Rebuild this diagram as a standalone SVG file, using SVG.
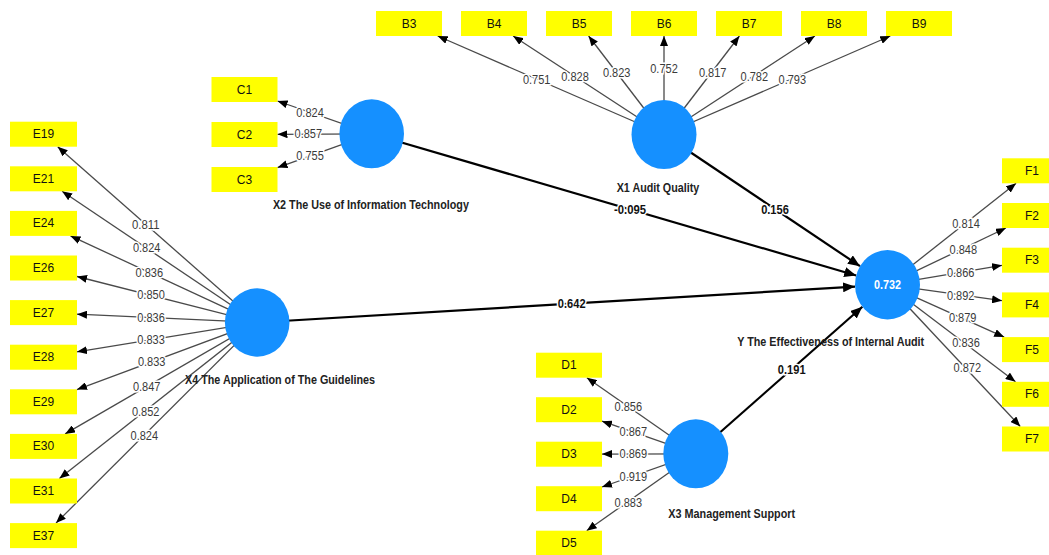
<svg xmlns="http://www.w3.org/2000/svg" width="1049" height="555" viewBox="0 0 1049 555">
<style>
.bg{fill:#fff}
.ind rect{fill:#ffff00}
.ind text{font-family:"Liberation Sans",Arial,sans-serif;font-size:12px;fill:#111;text-anchor:middle;dominant-baseline:central}
.lv ellipse{fill:#1590ff}
.lv text.nm{font-family:"Liberation Sans",Arial,sans-serif;font-size:12.5px;font-weight:bold;fill:#222;text-anchor:middle;dominant-baseline:central}
.lv text.r2{font-family:"Liberation Sans",Arial,sans-serif;font-size:12px;font-weight:bold;fill:#fff;text-anchor:middle;dominant-baseline:central}
.ld{stroke:#4a4a4a;stroke-width:1.3;fill:none;marker-end:url(#ah)}
.pc{stroke:#000;stroke-width:2.2;fill:none;marker-end:url(#ahp)}
.ll{font-family:"Liberation Sans",Arial,sans-serif;font-size:12px;fill:#3a3a3a;text-anchor:middle;dominant-baseline:central;stroke:#fff;stroke-width:3;paint-order:stroke}
.pl{font-family:"Liberation Sans",Arial,sans-serif;font-size:12px;font-weight:bold;fill:#111;text-anchor:middle;dominant-baseline:central;stroke:#fff;stroke-width:3;paint-order:stroke}
</style>
<defs>
<marker id="ah" viewBox="0 0 10 8" refX="10" refY="4" markerWidth="10" markerHeight="8" orient="auto" markerUnits="userSpaceOnUse"><path d="M0,0L10,4L0,8z" fill="#000"/></marker>
<marker id="ahp" viewBox="0 0 12 10" refX="12" refY="5" markerWidth="12" markerHeight="10" orient="auto" markerUnits="userSpaceOnUse"><path d="M0,0L12,5L0,10z" fill="#000"/></marker>
</defs>
<rect class="bg" x="0" y="0" width="1049" height="555"/>

<g id="connectors">
  <!-- X1 loadings -->
  <line class="ld" x1="664" y1="134.5" x2="437.7" y2="36"/>
  <line class="ld" x1="664" y1="134.5" x2="513.1" y2="36"/>
  <line class="ld" x1="664" y1="134.5" x2="588.6" y2="36"/>
  <line class="ld" x1="664" y1="134.5" x2="664" y2="36"/>
  <line class="ld" x1="664" y1="134.5" x2="739.4" y2="36"/>
  <line class="ld" x1="664" y1="134.5" x2="814.9" y2="36"/>
  <line class="ld" x1="664" y1="134.5" x2="890.3" y2="36"/>
  <!-- X2 loadings -->
  <line class="ld" x1="371.7" y1="133.8" x2="277.5" y2="101"/>
  <line class="ld" x1="371.7" y1="133.8" x2="277.5" y2="134.3"/>
  <line class="ld" x1="371.7" y1="133.8" x2="277.5" y2="167.6"/>
  <!-- X4 loadings -->
  <line class="ld" x1="257.2" y1="322.5" x2="57.7" y2="146.7"/>
  <line class="ld" x1="257.2" y1="322.5" x2="62.1" y2="191.3"/>
  <line class="ld" x1="257.2" y1="322.5" x2="70.5" y2="235.9"/>
  <line class="ld" x1="257.2" y1="322.5" x2="77" y2="276.5"/>
  <line class="ld" x1="257.2" y1="322.5" x2="77" y2="314.2"/>
  <line class="ld" x1="257.2" y1="322.5" x2="77" y2="351.8"/>
  <line class="ld" x1="257.2" y1="322.5" x2="77" y2="389.6"/>
  <line class="ld" x1="257.2" y1="322.5" x2="65.1" y2="433.9"/>
  <line class="ld" x1="257.2" y1="322.5" x2="59.4" y2="478.5"/>
  <line class="ld" x1="257.2" y1="322.5" x2="56" y2="523.1"/>
  <!-- X3 loadings -->
  <line class="ld" x1="695.8" y1="453.8" x2="586.9" y2="377.7"/>
  <line class="ld" x1="695.8" y1="453.8" x2="602" y2="421.2"/>
  <line class="ld" x1="695.8" y1="453.8" x2="602" y2="454.1"/>
  <line class="ld" x1="695.8" y1="453.8" x2="602" y2="487"/>
  <line class="ld" x1="695.8" y1="453.8" x2="586.7" y2="530.7"/>
  <!-- Y loadings -->
  <line class="ld" x1="887.5" y1="284.7" x2="1016.1" y2="183.3"/>
  <line class="ld" x1="887.5" y1="284.7" x2="1005.9" y2="228"/>
  <line class="ld" x1="887.5" y1="284.7" x2="1002" y2="265.3"/>
  <line class="ld" x1="887.5" y1="284.7" x2="1002" y2="300.7"/>
  <line class="ld" x1="887.5" y1="284.7" x2="1004.2" y2="337.1"/>
  <line class="ld" x1="887.5" y1="284.7" x2="1015.5" y2="381.8"/>
  <line class="ld" x1="887.5" y1="284.7" x2="1020.3" y2="426.5"/>
  <!-- structural paths -->
  <line class="pc" x1="664" y1="134.5" x2="860" y2="266.2"/>
  <line class="pc" x1="371.7" y1="133.8" x2="856.2" y2="275.5"/>
  <line class="pc" x1="257.2" y1="322.5" x2="855" y2="286.6"/>
  <line class="pc" x1="695.8" y1="453.8" x2="862.4" y2="306.8"/>

  <!-- loading labels -->
  <text class="ll" x="536.7" y="79.5" textLength="27.5" lengthAdjust="spacingAndGlyphs">0.751</text>
  <text class="ll" x="575" y="76.5" textLength="27.5" lengthAdjust="spacingAndGlyphs">0.828</text>
  <text class="ll" x="616.7" y="72.5" textLength="27.5" lengthAdjust="spacingAndGlyphs">0.823</text>
  <text class="ll" x="664" y="69.3" textLength="27.5" lengthAdjust="spacingAndGlyphs">0.752</text>
  <text class="ll" x="712.7" y="72.5" textLength="27.5" lengthAdjust="spacingAndGlyphs">0.817</text>
  <text class="ll" x="754.3" y="76.5" textLength="27.5" lengthAdjust="spacingAndGlyphs">0.782</text>
  <text class="ll" x="792.3" y="79.5" textLength="27.5" lengthAdjust="spacingAndGlyphs">0.793</text>

  <text class="ll" x="310" y="112.5" textLength="27.5" lengthAdjust="spacingAndGlyphs">0.824</text>
  <text class="ll" x="308.3" y="134.2" textLength="27.5" lengthAdjust="spacingAndGlyphs">0.857</text>
  <text class="ll" x="310" y="156" textLength="27.5" lengthAdjust="spacingAndGlyphs">0.755</text>

  <text class="ll" x="145.7" y="225" textLength="27.5" lengthAdjust="spacingAndGlyphs">0.811</text>
  <text class="ll" x="146.7" y="247.7" textLength="27.5" lengthAdjust="spacingAndGlyphs">0.824</text>
  <text class="ll" x="149.3" y="272.5" textLength="27.5" lengthAdjust="spacingAndGlyphs">0.836</text>
  <text class="ll" x="151" y="295.3" textLength="27.5" lengthAdjust="spacingAndGlyphs">0.850</text>
  <text class="ll" x="151" y="318.3" textLength="27.5" lengthAdjust="spacingAndGlyphs">0.836</text>
  <text class="ll" x="151" y="340" textLength="27.5" lengthAdjust="spacingAndGlyphs">0.833</text>
  <text class="ll" x="151.7" y="362.3" textLength="27.5" lengthAdjust="spacingAndGlyphs">0.833</text>
  <text class="ll" x="146.7" y="387.3" textLength="27.5" lengthAdjust="spacingAndGlyphs">0.847</text>
  <text class="ll" x="145.7" y="412.3" textLength="27.5" lengthAdjust="spacingAndGlyphs">0.852</text>
  <text class="ll" x="144.3" y="436" textLength="27.5" lengthAdjust="spacingAndGlyphs">0.824</text>

  <text class="ll" x="628.3" y="406.7" textLength="27.5" lengthAdjust="spacingAndGlyphs">0.856</text>
  <text class="ll" x="633.3" y="432.3" textLength="27.5" lengthAdjust="spacingAndGlyphs">0.867</text>
  <text class="ll" x="633.3" y="454.3" textLength="27.5" lengthAdjust="spacingAndGlyphs">0.869</text>
  <text class="ll" x="633.3" y="476.7" textLength="27.5" lengthAdjust="spacingAndGlyphs">0.919</text>
  <text class="ll" x="628.3" y="503.3" textLength="27.5" lengthAdjust="spacingAndGlyphs">0.883</text>

  <text class="ll" x="966" y="224" textLength="27.5" lengthAdjust="spacingAndGlyphs">0.814</text>
  <text class="ll" x="963.3" y="250" textLength="27.5" lengthAdjust="spacingAndGlyphs">0.848</text>
  <text class="ll" x="960.7" y="272.7" textLength="27.5" lengthAdjust="spacingAndGlyphs">0.866</text>
  <text class="ll" x="960.7" y="295.7" textLength="27.5" lengthAdjust="spacingAndGlyphs">0.892</text>
  <text class="ll" x="962.7" y="318.3" textLength="27.5" lengthAdjust="spacingAndGlyphs">0.879</text>
  <text class="ll" x="966" y="343.3" textLength="27.5" lengthAdjust="spacingAndGlyphs">0.836</text>
  <text class="ll" x="967.3" y="368.3" textLength="27.5" lengthAdjust="spacingAndGlyphs">0.872</text>

  <!-- path coefficients -->
  <text class="pl" x="775" y="210" textLength="27.7" lengthAdjust="spacingAndGlyphs">0.156</text>
  <text class="pl" x="630" y="210" textLength="32" lengthAdjust="spacingAndGlyphs">-0.095</text>
  <text class="pl" x="571.7" y="304" textLength="27.7" lengthAdjust="spacingAndGlyphs">0.642</text>
  <text class="pl" x="791.7" y="369.5" textLength="27.7" lengthAdjust="spacingAndGlyphs">0.191</text>
</g>

<g id="X1" class="lv">
  <ellipse cx="664" cy="134.5" rx="32.5" ry="34.6"/>
  <text class="nm" x="658" y="188.3" textLength="82.6" lengthAdjust="spacingAndGlyphs">X1 Audit Quality</text>
</g>
<g id="X2" class="lv">
  <ellipse cx="371.7" cy="133.8" rx="32.3" ry="34.5"/>
  <text class="nm" x="370.9" y="205" textLength="196" lengthAdjust="spacingAndGlyphs">X2 The Use of Information Technology</text>
</g>
<g id="X3" class="lv">
  <ellipse cx="695.8" cy="453.8" rx="32.5" ry="34.5"/>
  <text class="nm" x="731.7" y="514" textLength="126.7" lengthAdjust="spacingAndGlyphs">X3 Management Support</text>
</g>
<g id="X4" class="lv">
  <ellipse cx="257.2" cy="322.5" rx="32.3" ry="34.2"/>
  <text class="nm" x="280" y="380" textLength="190" lengthAdjust="spacingAndGlyphs">X4 The Application of The Guidelines</text>
</g>
<g id="Y" class="lv">
  <ellipse cx="887.5" cy="284.7" rx="32.5" ry="34.7"/>
  <text class="r2" x="887.5" y="284.7" textLength="27" lengthAdjust="spacingAndGlyphs">0.732</text>
  <text class="nm" x="830.7" y="341.5" textLength="187" lengthAdjust="spacingAndGlyphs">Y The Effectiveness of Internal Audit</text>
</g>

<g id="B3" class="ind"><rect x="376" y="11" width="66" height="25"/><text x="409" y="23.5">B3</text></g>
<g id="B4" class="ind"><rect x="461" y="11" width="66" height="25"/><text x="494" y="23.5">B4</text></g>
<g id="B5" class="ind"><rect x="546" y="11" width="66" height="25"/><text x="579" y="23.5">B5</text></g>
<g id="B6" class="ind"><rect x="631" y="11" width="66" height="25"/><text x="664" y="23.5">B6</text></g>
<g id="B7" class="ind"><rect x="716" y="11" width="66" height="25"/><text x="749" y="23.5">B7</text></g>
<g id="B8" class="ind"><rect x="801" y="11" width="66" height="25"/><text x="834" y="23.5">B8</text></g>
<g id="B9" class="ind"><rect x="886" y="11" width="66" height="25"/><text x="919" y="23.5">B9</text></g>

<g id="C1" class="ind"><rect x="211.5" y="77" width="66" height="25"/><text x="244.5" y="89.5">C1</text></g>
<g id="C2" class="ind"><rect x="211.5" y="122" width="66" height="25"/><text x="244.5" y="134.5">C2</text></g>
<g id="C3" class="ind"><rect x="211.5" y="167" width="66" height="25"/><text x="244.5" y="179.5">C3</text></g>

<g id="E19" class="ind"><rect x="10" y="121.7" width="67" height="25"/><text x="43.5" y="134.2">E19</text></g>
<g id="E21" class="ind"><rect x="10" y="166.3" width="67" height="25"/><text x="43.5" y="178.8">E21</text></g>
<g id="E24" class="ind"><rect x="10" y="210.9" width="67" height="25"/><text x="43.5" y="223.4">E24</text></g>
<g id="E26" class="ind"><rect x="10" y="255.5" width="67" height="25"/><text x="43.5" y="268">E26</text></g>
<g id="E27" class="ind"><rect x="10" y="300.1" width="67" height="25"/><text x="43.5" y="312.6">E27</text></g>
<g id="E28" class="ind"><rect x="10" y="344.7" width="67" height="25"/><text x="43.5" y="357.2">E28</text></g>
<g id="E29" class="ind"><rect x="10" y="389.3" width="67" height="25"/><text x="43.5" y="401.8">E29</text></g>
<g id="E30" class="ind"><rect x="10" y="433.9" width="67" height="25"/><text x="43.5" y="446.4">E30</text></g>
<g id="E31" class="ind"><rect x="10" y="478.5" width="67" height="25"/><text x="43.5" y="491">E31</text></g>
<g id="E37" class="ind"><rect x="10" y="523.1" width="67" height="25"/><text x="43.5" y="535.6">E37</text></g>

<g id="D1" class="ind"><rect x="536" y="352.7" width="66" height="25"/><text x="569" y="365.2">D1</text></g>
<g id="D2" class="ind"><rect x="536" y="397.2" width="66" height="25"/><text x="569" y="409.7">D2</text></g>
<g id="D3" class="ind"><rect x="536" y="441.7" width="66" height="25"/><text x="569" y="454.2">D3</text></g>
<g id="D4" class="ind"><rect x="536" y="486.2" width="66" height="25"/><text x="569" y="498.7">D4</text></g>
<g id="D5" class="ind"><rect x="536" y="530.7" width="66" height="25"/><text x="569" y="543.2">D5</text></g>

<g id="F1" class="ind"><rect x="1002" y="158.3" width="66" height="25"/><text x="1032" y="170.8">F1</text></g>
<g id="F2" class="ind"><rect x="1002" y="203" width="66" height="25"/><text x="1032" y="215.5">F2</text></g>
<g id="F3" class="ind"><rect x="1002" y="247.7" width="66" height="25"/><text x="1032" y="260.2">F3</text></g>
<g id="F4" class="ind"><rect x="1002" y="292.4" width="66" height="25"/><text x="1032" y="304.9">F4</text></g>
<g id="F5" class="ind"><rect x="1002" y="337.1" width="66" height="25"/><text x="1032" y="349.6">F5</text></g>
<g id="F6" class="ind"><rect x="1002" y="381.8" width="66" height="25"/><text x="1032" y="394.3">F6</text></g>
<g id="F7" class="ind"><rect x="1002" y="426.5" width="66" height="25"/><text x="1032" y="439">F7</text></g>
</svg>
